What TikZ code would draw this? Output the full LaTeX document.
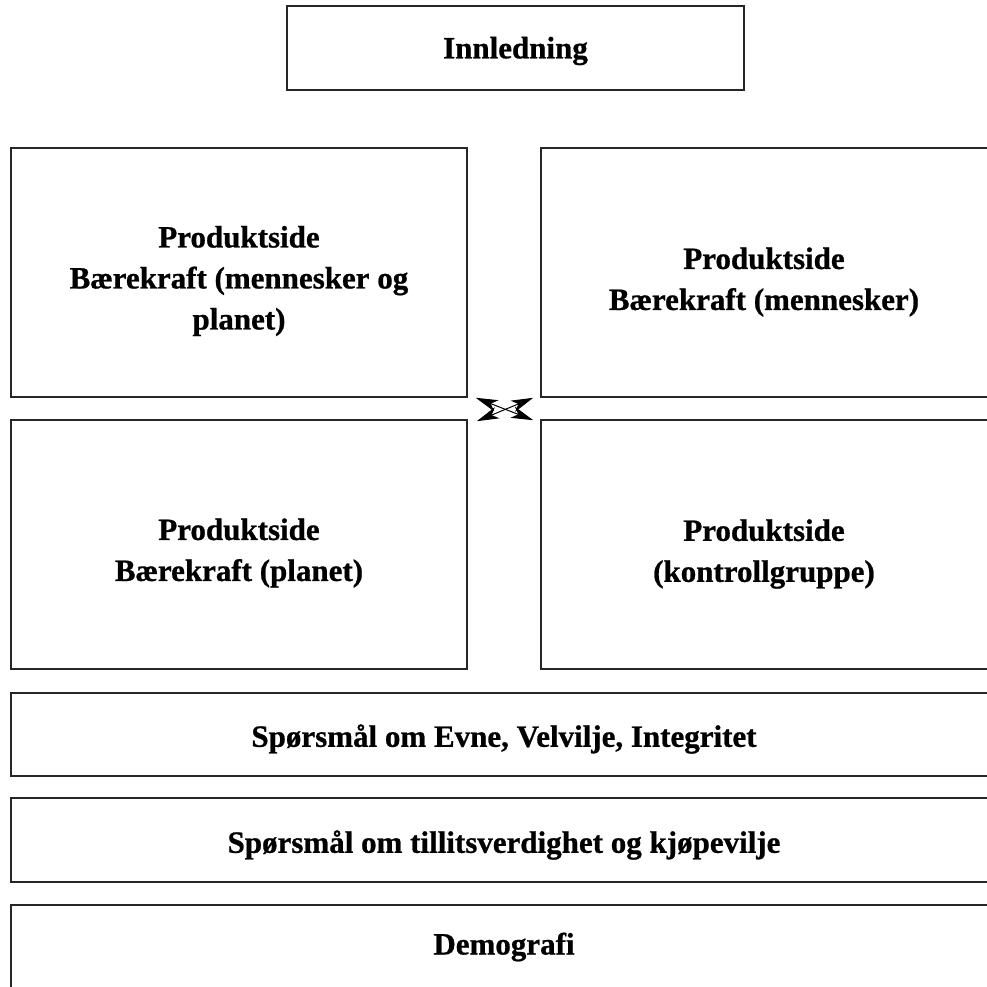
\documentclass[tikz,border=0pt]{standalone}
\usepackage{fontspec}
\setmainfont[BoldFeatures={FakeBold=0.8}]{Liberation Serif}
\usetikzlibrary{arrows.meta}
\begin{document}
\begin{tikzpicture}[x=1pt,y=-1pt,
  box/.style={draw=black!85,line width=1.6pt,rectangle,inner sep=0pt,align=center},
  txt/.style={font=\fontsize{31}{41}\selectfont\bfseries,align=center},
  dbl/.style={line width=1pt,{Stealth[length=22pt,width=12pt,inset=6pt]}-{Stealth[length=22pt,width=12pt,inset=6pt]}}]
\useasboundingbox (0,0) rectangle (987,987);
\clip (0,0) rectangle (987,987);
\node[box,minimum width=457pt,minimum height=84pt] (intro) at (515.5,48) {};
\node[txt] (introt) at (515.5,51) {Innledning};
\node[box,minimum width=456pt,minimum height=249pt] (tl) at (239,272.5) {};
\node[txt] (tlt) at (239,281) {Produktside\\Bærekraft (mennesker og\\planet)};
\node[box,minimum width=470pt,minimum height=249pt] (tr) at (776,272.5) {};
\node[txt] (trt) at (764,282) {Produktside\\Bærekraft (mennesker)};
\node[box,minimum width=456pt,minimum height=249pt] (bl) at (239,544.5) {};
\node[txt] (blt) at (239,553) {Produktside\\Bærekraft (planet)};
\node[box,minimum width=470pt,minimum height=249pt] (br) at (776,544.5) {};
\node[txt] (brt) at (764,554) {Produktside\\(kontrollgruppe)};
\node[box,minimum width=1000pt,minimum height=83pt] (q1) at (511,734.5) {};
\node[txt] (q1t) at (504,739) {Spørsmål om Evne, Velvilje, Integritet};
\node[box,minimum width=1000pt,minimum height=84pt] (q2) at (511,840) {};
\node[txt] (q2t) at (504,845) {Spørsmål om tillitsverdighet og kjøpevilje};
\node[box,minimum width=1000pt,minimum height=120pt] (q3) at (511,965) {};
\node[txt] (q3t) at (504,947) {Demografi};
\draw[dbl] ([shift={(8,0)}]tl.south east) -- ([shift={(-7,1)}]br.north west);
\draw[dbl] ([shift={(9,2)}]bl.north east) -- ([shift={(-7,0)}]tr.south west);
\end{tikzpicture}
\end{document}
